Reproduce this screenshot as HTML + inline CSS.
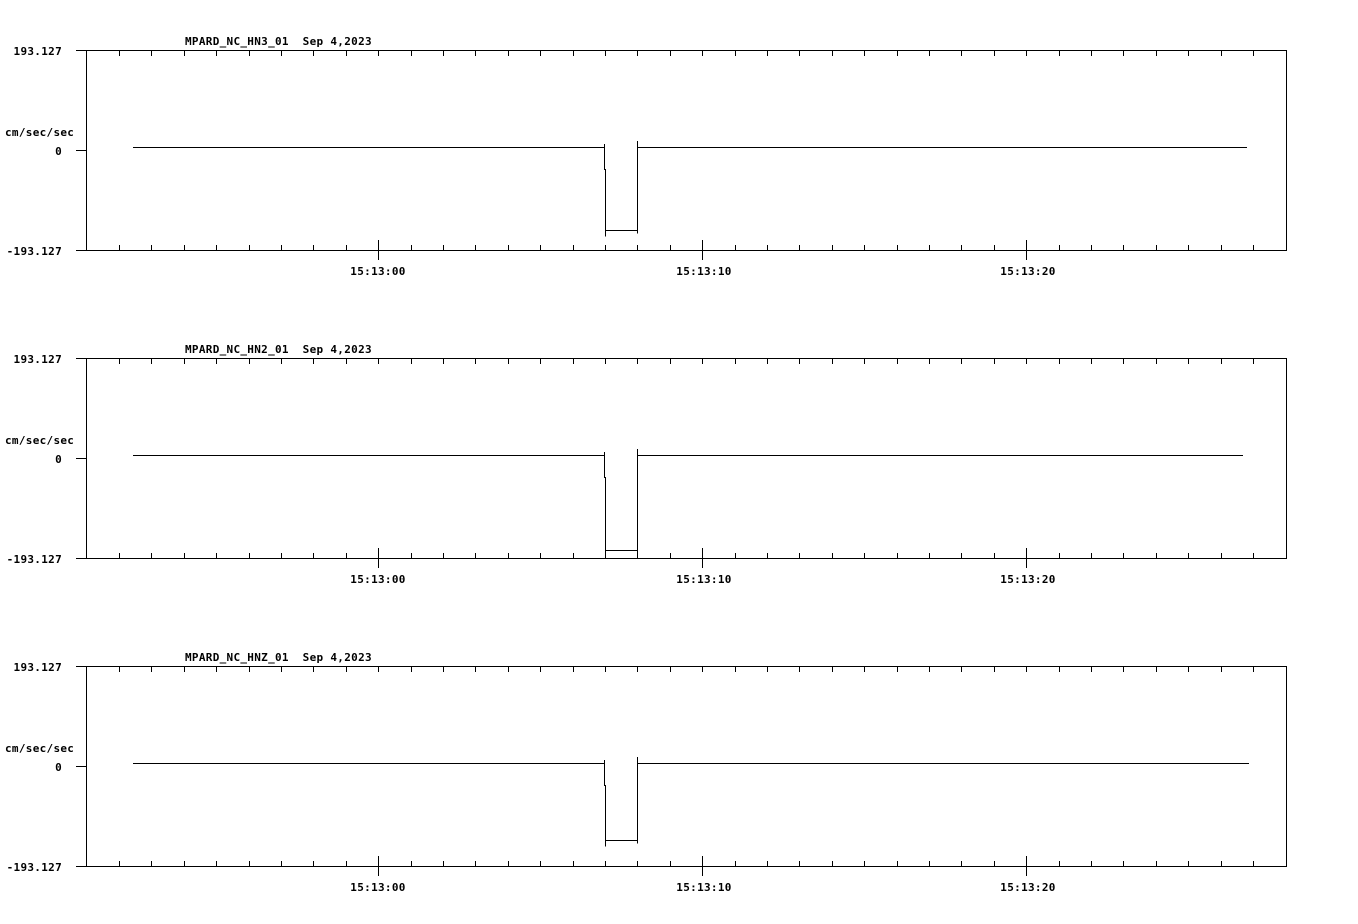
<!DOCTYPE html>
<html><head><style>
html,body{margin:0;padding:0;background:#fff;}
svg{display:block}
text{font-family:"DejaVu Sans Mono","Liberation Mono",monospace;font-size:11px;font-weight:bold;fill:#000;white-space:pre;letter-spacing:0.3px}
</style></head><body>
<svg width="1358" height="924" xmlns="http://www.w3.org/2000/svg" shape-rendering="crispEdges" xml:space="preserve">
<g id="root"></g>
</svg>
<script>
var svgns="http://www.w3.org/2000/svg";
var root=document.getElementById('root');
function el(t,a,txt){var e=document.createElementNS(svgns,t);for(var k in a)e.setAttribute(k,a[k]);if(txt!==undefined)e.textContent=txt;root.appendChild(e);return e;}
var panels=[{o:0,n:"HN3",b:230,end:1247},{o:308,n:"HN2",b:242,end:1243},{o:616,n:"HNZ",b:224,end:1249}];
panels.forEach(function(p){
 var o=p.o;
 el('rect',{x:86.5,y:50.5+o,width:1200,height:200,fill:'none',stroke:'#000'});
 el('text',{x:185,y:45+o},"MPARD_NC_"+p.n+"_01  Sep 4,2023");
 el('text',{x:62,y:55+o,'text-anchor':'end'},"193.127");
 el('text',{x:5,y:136+o},"cm/sec/sec");
 el('text',{x:62,y:155+o,'text-anchor':'end'},"0");
 el('text',{x:62,y:255+o,'text-anchor':'end'},"-193.127");
 el('line',{x1:76,y1:50.5+o,x2:86,y2:50.5+o,stroke:'#000'});
 el('line',{x1:76,y1:150.5+o,x2:86,y2:150.5+o,stroke:'#000'});
 el('line',{x1:76,y1:250.5+o,x2:86,y2:250.5+o,stroke:'#000'});
 for(var i=0;i<36;i++){
  var x=Math.round(119+i*32.4)+0.5;
  el('line',{x1:x,y1:50+o,x2:x,y2:56+o,stroke:'#000'});
  if(i==8||i==18||i==28){
   el('line',{x1:x,y1:240+o,x2:x,y2:260+o,stroke:'#000'});
  } else el('line',{x1:x,y1:245+o,x2:x,y2:250+o,stroke:'#000'});
 }
 el('text',{x:378,y:275+o,'text-anchor':'middle'},"15:13:00");
 el('text',{x:704,y:275+o,'text-anchor':'middle'},"15:13:10");
 el('text',{x:1028,y:275+o,'text-anchor':'middle'},"15:13:20");
 var b=p.b+o+0.5;
 el('polyline',{points:"133,"+(147.5+o)+" 604,"+(147.5+o),fill:'none',stroke:'#000'});
 el('line',{x1:604.5,y1:144+o,x2:604.5,y2:170+o,stroke:'#000'});
 el('line',{x1:605.5,y1:169+o,x2:605.5,y2:b+6,stroke:'#000'});
 el('line',{x1:605,y1:b,x2:637,y2:b,stroke:'#000'});
 el('line',{x1:637.5,y1:141+o,x2:637.5,y2:b+3,stroke:'#000'});
 el('line',{x1:638,y1:147.5+o,x2:p.end,y2:147.5+o,stroke:'#000'});
});
</script>
</body></html>
